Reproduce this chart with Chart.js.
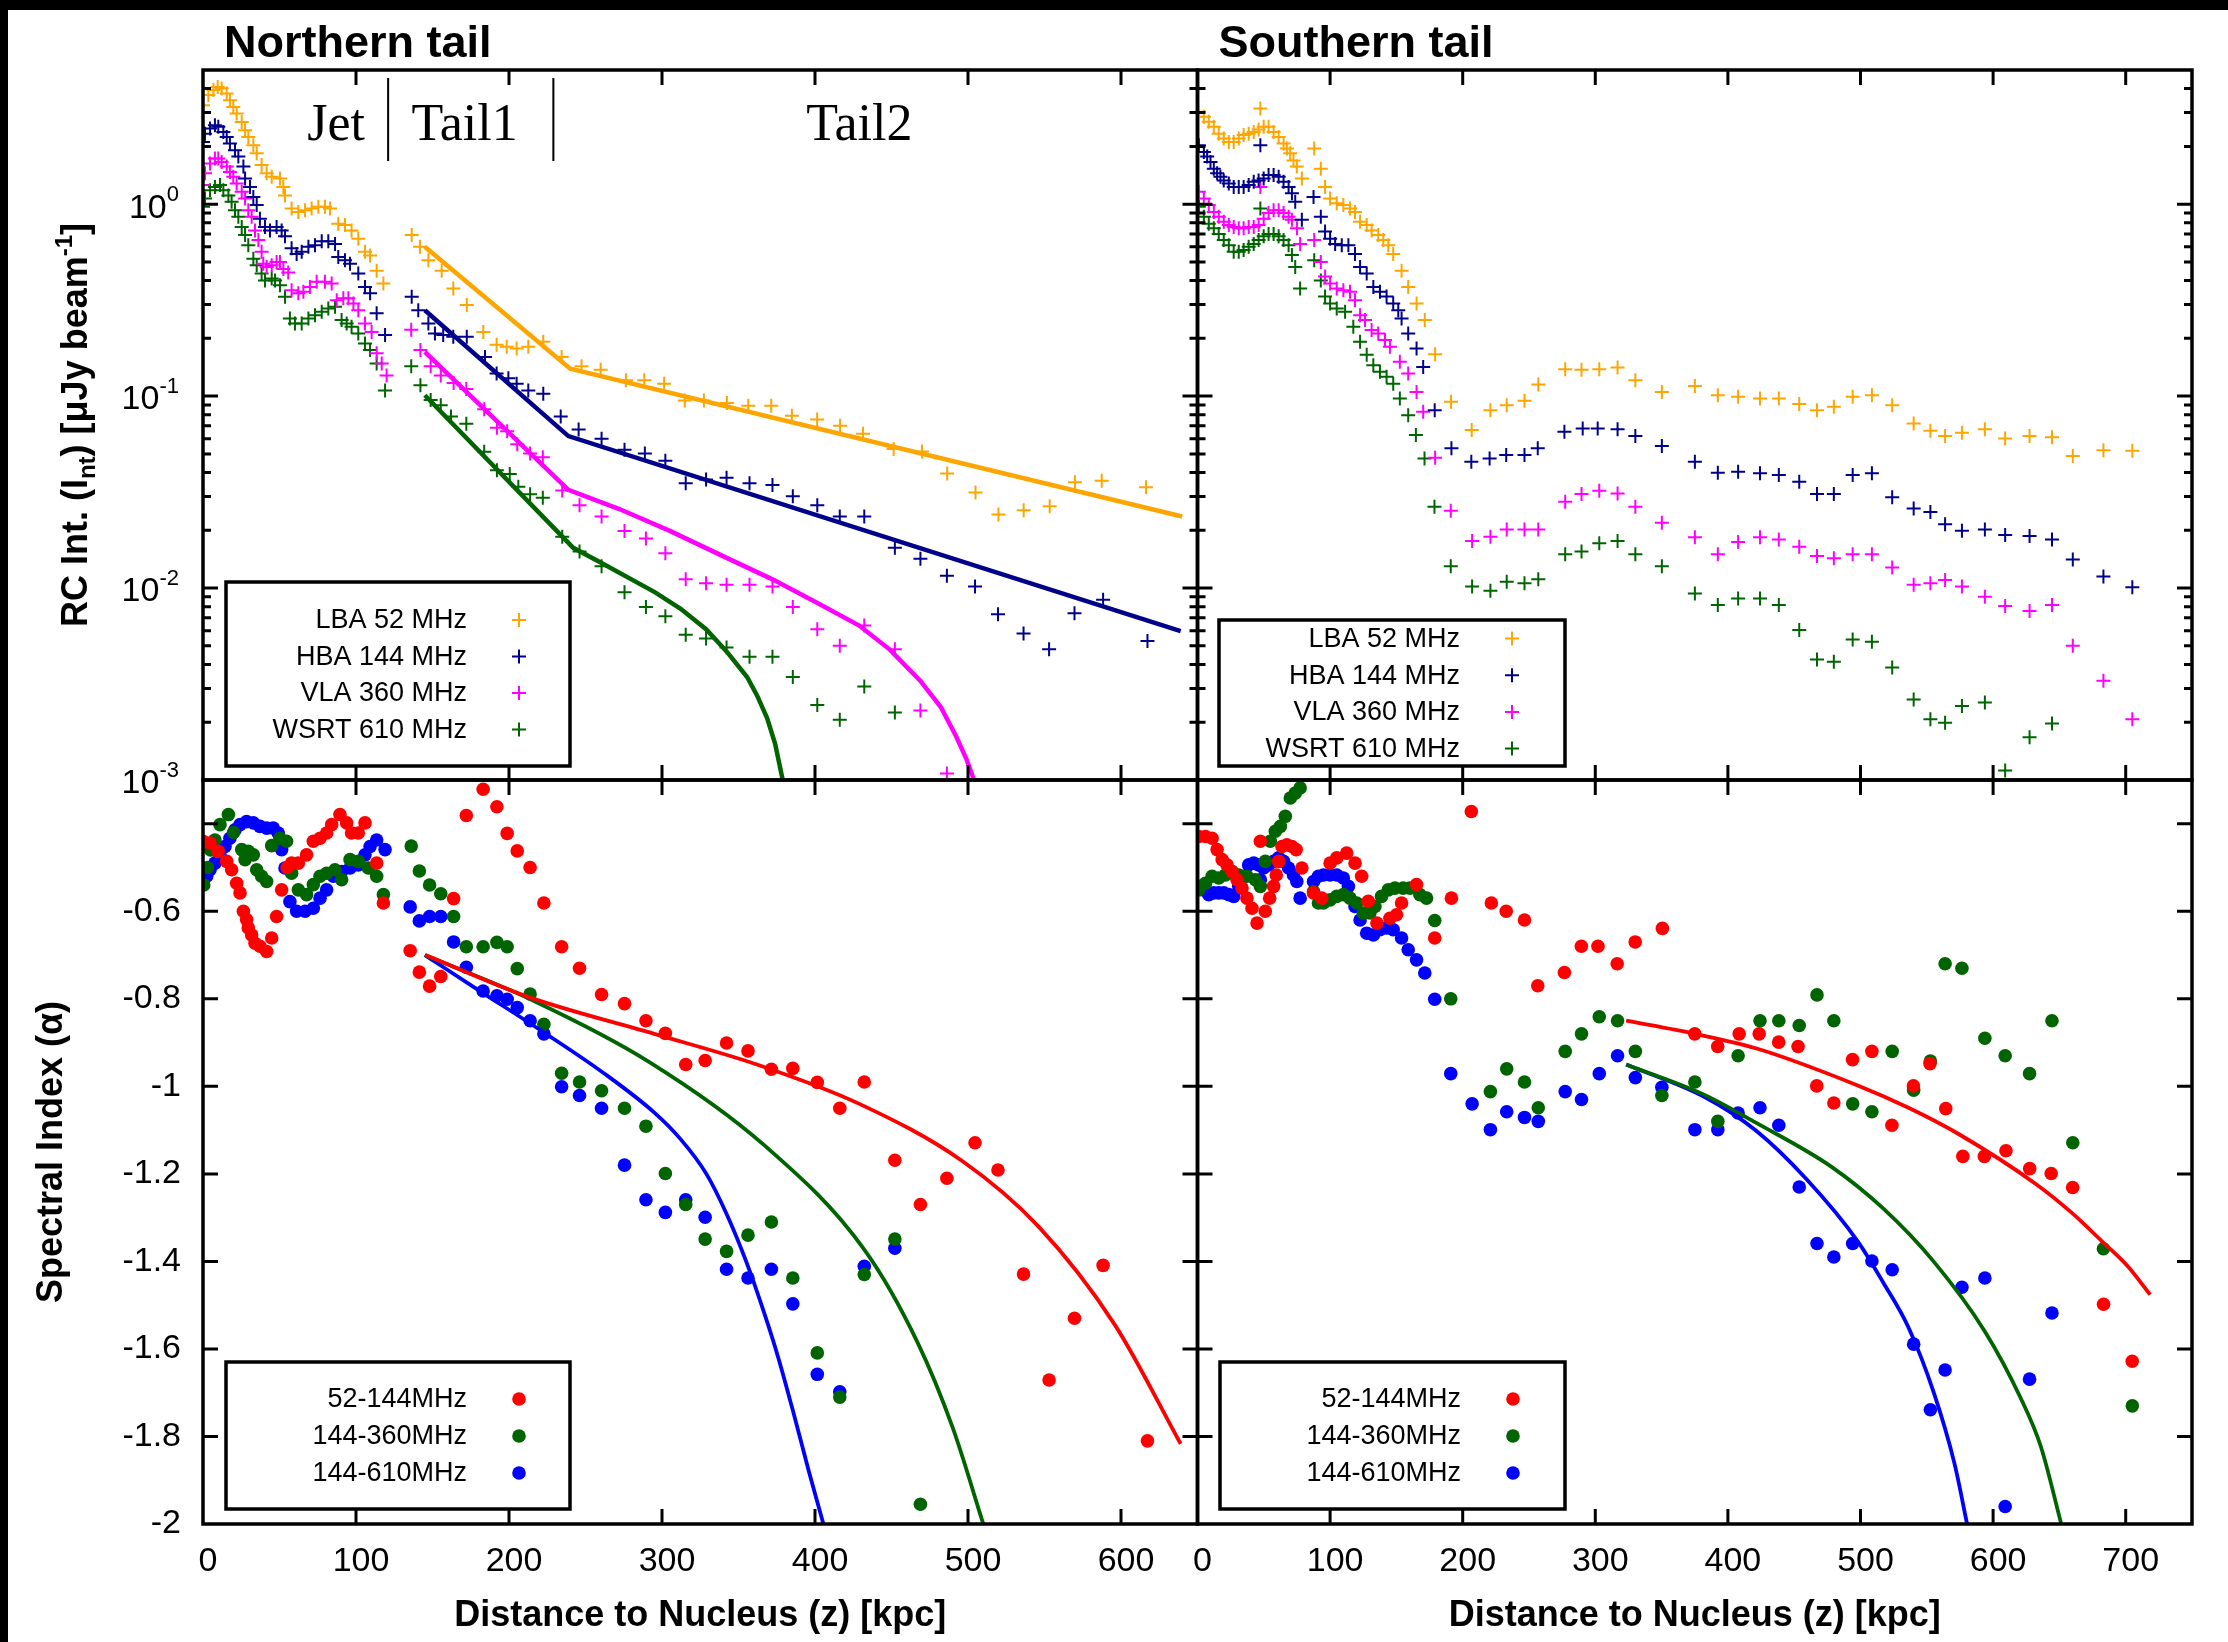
<!DOCTYPE html>
<html>
<head>
<meta charset="utf-8">
<title>Northern / Southern tail profiles</title>
<script src="https://cdn.jsdelivr.net/npm/chart.js@4.4.1/dist/chart.umd.min.js"></script>
<style>
  html, body { margin: 0; padding: 0; background: #fff; }
  #page { position: relative; width: 2228px; height: 1642px; background: #fff; overflow: hidden; }
  #page canvas { position: absolute; left: 0; top: 0; }
  .edge-top { position: absolute; left: 0; top: 0; width: 2228px; height: 10px; background: #000; }
  .edge-left { position: absolute; left: 0; top: 0; width: 8px; height: 1642px; background: #000; }
</style>
</head>
<body>
<div id="page">
  <canvas id="northFlux" width="2228" height="1642"></canvas>
  <canvas id="southFlux" width="2228" height="1642"></canvas>
  <canvas id="northIndex" width="2228" height="1642"></canvas>
  <canvas id="southIndex" width="2228" height="1642"></canvas>
  <div class="edge-top"></div>
  <div class="edge-left"></div>
</div>
<script>
// ---------- data: [distance kpc, value] ----------

// Northern tail, radio continuum intensity
const northLBA = [[0,3.28],[3.5,3.70],[6.8,3.93],[9.6,4.08],[12.2,4.0],[15.5,3.77],[17.6,3.48],[19.8,3.21],[22,2.97],[25.3,2.68],[27.5,2.43],[29.6,2.24],[32.9,2.03],[35.1,1.84],[38.3,1.60],[41.6,1.45],[44.9,1.39],[50.3,1.36],[52.5,1.23],[53.6,1.11],[57.9,0.95],[62.3,0.91],[66.7,0.93],[71,0.95],[75.4,0.97],[79.7,0.97],[83,0.95],[88.4,0.79],[92.8,0.78],[97.1,0.73],[101.5,0.66],[105.9,0.565],[109.2,0.54],[113.5,0.45],[117.9,0.386],
  [136.4,0.69],[141.8,0.60],[147.3,0.51],[156,0.45],[163.6,0.364],[172.4,0.298],[183.2,0.216],[191.9,0.185],[198.5,0.181],[205,0.177],[212.6,0.181],[222.4,0.192],[234.4,0.160],[247.4,0.143],[259.9,0.137],[276.4,0.121],[288.4,0.121],[301.4,0.116],[314.9,0.095],[327.4,0.095],[342.4,0.092],[356.4,0.089],[371.4,0.089],[384.9,0.079],[401.4,0.0755],[416.4,0.070],[431.4,0.0637],[451.4,0.053],[469.9,0.0514],[486.4,0.0395],[504.9,0.0315],[519.9,0.0242],[536.4,0.0254],[553.4,0.0267],[569.9,0.0356],[587.4,0.0362],[616.4,0.0335]];
const northHBA = [[0,2.11],[1.3,2.33],[4.6,2.48],[7.8,2.58],[10,2.53],[13.3,2.38],[15.5,2.24],[17.6,2.07],[20.9,1.91],[23.1,1.77],[26.4,1.57],[27.5,1.36],[30.7,1.23],[32.9,1.09],[35.1,0.99],[37.2,0.84],[40.5,0.76],[43.8,0.73],[48.1,0.76],[51.4,0.73],[53.6,0.68],[57.9,0.59],[61.2,0.55],[64.5,0.565],[68.9,0.60],[73.2,0.61],[77.6,0.64],[81.9,0.64],[86.3,0.62],[88.4,0.53],[92.8,0.51],[96.1,0.49],[101.5,0.435],[105.9,0.37],[109.2,0.343],[113.5,0.27],[119,0.208],
  [136.4,0.329],[140.7,0.28],[147.3,0.239],[151.6,0.212],[157,0.208],[163.6,0.204],[172.4,0.204],[184.3,0.160],[191.9,0.131],[199.6,0.124],[205,0.116],[212.6,0.107],[222.4,0.103],[233.8,0.0783],[245.5,0.067],[260.5,0.060],[275.5,0.0525],[288.8,0.0502],[302.2,0.046],[315.5,0.0352],[328.8,0.0368],[342.2,0.0376],[357.2,0.0352],[372.2,0.0344],[385.5,0.0301],[401.5,0.027],[416.2,0.0236],[432.2,0.0236],[452.2,0.0162],[468.9,0.0142],[486.2,0.0116],[504.6,0.0102],[519.6,0.0073],[536.3,0.0058],[553,0.0048],[569.6,0.0074],[588.3,0.0087],[617.3,0.0053]];
const northVLA = [[0,1.26],[1.3,1.45],[4.6,1.63],[7.8,1.73],[10,1.73],[12.2,1.66],[15.5,1.57],[17.6,1.47],[19.8,1.39],[22,1.28],[25.3,1.16],[27.5,1.07],[29.6,0.93],[31.8,0.86],[34,0.73],[36.2,0.65],[38.3,0.565],[39.4,0.49],[41.6,0.47],[44.9,0.48],[48.1,0.50],[50.3,0.50],[52.5,0.46],[55.7,0.44],[57.9,0.356],[62.3,0.343],[65.6,0.35],[69.9,0.37],[74.3,0.394],[79.7,0.394],[84.1,0.386],[87.4,0.316],[91.7,0.323],[95,0.323],[98.3,0.304],[101.5,0.28],[105.9,0.239],[110.2,0.216],[113.5,0.167],[116.8,0.148],[120,0.128],
  [136.1,0.222],[142.1,0.174],[148.8,0.143],[155.4,0.128],[163.8,0.117],[172.1,0.109],[183.8,0.0855],[192.1,0.0685],[198.8,0.0656],[205.4,0.0561],[213.8,0.0502],[222.1,0.048],[234.8,0.0322],[246.1,0.027],[260.5,0.0236],[275.5,0.0198],[289.5,0.0181],[302.2,0.0152],[315.5,0.0111],[328.8,0.0106],[342.2,0.0104],[357.2,0.0104],[372.2,0.0102],[385.5,0.00796],[401.5,0.0061],[416.2,0.005],[432.2,0.00638],[452.2,0.0048],[468.9,0.0023],[486.2,0.00108]];
const northWSRT = [[0,0.97],[1.3,1.07],[4.6,1.18],[7.8,1.23],[11.1,1.26],[13.3,1.18],[16.6,1.11],[18.7,1.03],[20.9,0.93],[23.1,0.86],[25.3,0.76],[27.5,0.69],[29.6,0.61],[32.9,0.52],[35.1,0.48],[38.3,0.435],[40.5,0.40],[44.9,0.41],[47.1,0.40],[50.3,0.378],[53.6,0.329],[56.8,0.254],[60.1,0.239],[64.5,0.239],[68.9,0.254],[73.2,0.264],[77.6,0.275],[81.9,0.286],[86.3,0.292],[90.6,0.249],[93.9,0.239],[97.1,0.23],[101.5,0.212],[105.9,0.188],[109.2,0.174],[113.5,0.148],[119,0.107],
  [136.1,0.143],[142.1,0.114],[148.8,0.0955],[155.4,0.0895],[162.1,0.0783],[172.1,0.0717],[183.8,0.0513],[192.1,0.0411],[200.5,0.0393],[206.1,0.0337],[213.8,0.0308],[222.1,0.0295],[234.8,0.0185],[246.1,0.0155],[260.5,0.013],[275.5,0.0095],[289.5,0.00796],[302.2,0.00713],[315.5,0.00571],[328.8,0.00546],[342.2,0.0049],[357.2,0.00438],[372.2,0.00438],[385.5,0.00344],[401.5,0.00246],[416.2,0.00206],[432.2,0.00307],[452.2,0.00225]];

// Northern tail, model fits
const northFitLBA = [[145,0.60],[240,0.139],[640,0.0236]];
const northFitHBA = [[145,0.28],[238.8,0.0619],[639,0.00597]];
const northFitVLA = [[145,0.170],[238.8,0.0325],[272.1,0.0258],[305.5,0.0198],[338.8,0.0148],[372.2,0.0111],[402.2,0.0083],[428.9,0.00638],[448.9,0.00478],[468.9,0.00328],[482.2,0.0024],[492.2,0.00169],[498.9,0.00129],[503.9,0.001]];
const northFitWSRT = [[145,0.101],[242,0.0162],[262,0.0133],[295.5,0.0095],[312.2,0.0078],[328.8,0.0061],[342.2,0.00468],[355.6,0.00344],[362.2,0.00275],[368.7,0.0021],[373.9,0.00155],[378.9,0.001]];

// Southern tail, radio continuum intensity
const southLBA = [[1,3.03],[4.8,2.85],[8.5,2.69],[12.3,2.53],[16,2.33],[19.8,2.20],[23.6,2.11],[27.3,2.11],[31.1,2.20],[34.8,2.29],[38.6,2.33],[42.4,2.38],[46.1,2.45],[47.4,3.15],[49.9,2.53],[53.6,2.53],[57.4,2.38],[61.2,2.24],[64.9,2.07],[67.4,1.95],[69.9,1.84],[72.4,1.69],[74.9,1.57],[78.7,1.36],[88,1.95],[93,1.53],[96.2,1.23],[100,1.07],[105,1.01],[110,0.99],[115,0.95],[118.8,0.91],[122.6,0.81],[127.6,0.78],[131.3,0.73],[136.3,0.69],[140.1,0.65],[143.9,0.61],[147.6,0.55],[153.9,0.45],[158.9,0.37],[165.2,0.304],[171.4,0.249],[179.2,0.165],[191.2,0.0934],[206.8,0.0665],[220.9,0.0845],[233.2,0.0897],[246.6,0.0946],[257,0.115],[277.3,0.138],[289.6,0.137],[303,0.138],[316.8,0.141],[330.2,0.121],[350.2,0.105],[375.1,0.113],[392.4,0.101],[407.7,0.0993],[424.2,0.0973],[438.4,0.0973],[453.8,0.091],[467.2,0.0845],[479.9,0.088],[494.1,0.0993],[508.6,0.101],[523.9,0.0897],[540.1,0.0721],[552.7,0.066],[563.8,0.0619],[576.5,0.0644],[593.8,0.0671],[609.1,0.0602],[627.5,0.0619],[644.4,0.061],[660.1,0.0487],[683.2,0.0523],[705,0.0519]];
const southHBA = [[1,2.03],[4.8,1.87],[7.3,1.77],[9.8,1.66],[12.3,1.53],[14.8,1.45],[17.3,1.39],[19.8,1.33],[23.6,1.28],[27.3,1.23],[31.1,1.23],[34.8,1.23],[38.6,1.26],[42.4,1.31],[46.1,1.33],[47.4,2.03],[49.9,1.36],[53.6,1.42],[57.4,1.42],[61.2,1.39],[64.9,1.31],[68.7,1.23],[71.2,1.14],[73.7,1.03],[78.7,0.83],[87.5,1.09],[93,0.86],[96.2,0.72],[100,0.66],[103.8,0.62],[108.8,0.61],[113.8,0.61],[118.8,0.55],[122.6,0.47],[127.6,0.435],[132.6,0.37],[137.6,0.35],[142.6,0.33],[147.6,0.304],[151.4,0.28],[153.9,0.254],[158.9,0.212],[165.2,0.177],[170.2,0.142],[178.9,0.0845],[191.5,0.0535],[206.5,0.0455],[220.3,0.0473],[232.8,0.0493],[246.6,0.0493],[256.6,0.0535],[276.7,0.0652],[290.5,0.0679],[301.8,0.0679],[316.8,0.0671],[330.2,0.0619],[350.2,0.055],[375.1,0.0455],[392.4,0.0399],[407.7,0.0403],[424.2,0.0396],[438.4,0.0388],[453.8,0.0358],[467.2,0.0309],[479.9,0.0309],[494.1,0.0388],[508.6,0.0396],[523.9,0.0297],[540.1,0.026],[552.7,0.0249],[563.8,0.0215],[576.5,0.0199],[593.8,0.0202],[609.1,0.0189],[627.5,0.0187],[644.4,0.0179],[660.1,0.0141],[683.2,0.0115],[705,0.0101]];
const southVLA = [[1,1.16],[4.8,1.07],[8.5,0.99],[12.3,0.91],[16,0.86],[19.8,0.81],[23.6,0.78],[27.3,0.76],[31.1,0.75],[34.8,0.75],[38.6,0.76],[42.4,0.76],[46.1,0.78],[47.4,1.23],[49.9,0.84],[53.6,0.90],[57.4,0.93],[61.2,0.93],[64.9,0.90],[68.7,0.86],[71.2,0.83],[75,0.75],[77.4,0.62],[88,0.65],[93,0.50],[96.2,0.42],[100,0.386],[105,0.364],[110,0.356],[115,0.35],[118.8,0.316],[122.6,0.264],[126.3,0.249],[131.3,0.221],[136.3,0.212],[141.4,0.196],[145.1,0.181],[152.6,0.151],[158.9,0.131],[165.2,0.105],[170.2,0.083],[179.2,0.0478],[191,0.0253],[207.1,0.0176],[220.9,0.0185],[233.2,0.0202],[246.6,0.0202],[257,0.0202],[277.3,0.0282],[289.6,0.0309],[303,0.0321],[316.8,0.0311],[330.2,0.0265],[350.2,0.0219],[375.1,0.0184],[392.4,0.015],[407.7,0.0174],[424.2,0.0184],[438.4,0.0179],[453.8,0.0164],[467.2,0.0147],[479.9,0.0143],[494.1,0.015],[508.6,0.015],[523.9,0.0128],[540.1,0.0104],[552.7,0.0106],[563.8,0.011],[576.5,0.0102],[593.8,0.009],[609.1,0.00806],[627.5,0.0076],[644.4,0.00815],[660.1,0.005],[683.2,0.00329],[705,0.00207]];
const southWSRT = [[1,0.97],[4.8,0.86],[8.5,0.79],[12.3,0.75],[16,0.70],[19.8,0.65],[23.6,0.61],[27.3,0.565],[31.1,0.565],[34.8,0.577],[38.6,0.60],[42.4,0.62],[46.1,0.65],[47.4,0.95],[49.9,0.68],[53.6,0.70],[57.4,0.70],[61.2,0.68],[64.9,0.65],[68.7,0.61],[71.2,0.543],[73.7,0.47],[77.4,0.364],[88,0.51],[93,0.40],[96.2,0.33],[100,0.304],[105,0.286],[111.3,0.275],[117.5,0.23],[122.6,0.192],[127.6,0.164],[132.6,0.145],[137.6,0.134],[142.6,0.126],[147.6,0.116],[152.6,0.0973],[158.9,0.0796],[164.7,0.0627],[171.2,0.0473],[178.7,0.0265],[191,0.013],[207.1,0.0102],[220.9,0.00968],[233.2,0.0108],[246.6,0.0106],[257,0.0111],[277.3,0.015],[289.6,0.0155],[303,0.0171],[316.8,0.0176],[330.2,0.015],[350.2,0.013],[375.1,0.00938],[392.4,0.00815],[407.7,0.00883],[424.2,0.00883],[438.4,0.00815],[453.8,0.00604],[467.2,0.00425],[479.9,0.00413],[494.1,0.0054],[508.6,0.00525],[523.9,0.00386],[540.1,0.00263],[552.7,0.00207],[563.8,0.00199],[576.5,0.00243],[593.8,0.00253],[609.1,0.00112],[627.5,0.00167],[644.4,0.00197]];

// Northern tail, spectral index
const northIdx52 = [[0,-0.440],[4.6,-0.444],[9.9,-0.463],[15.5,-0.486],[18.7,-0.505],[22,-0.536],[24.2,-0.558],[26.4,-0.600],[28.5,-0.619],[29.6,-0.638],[31.8,-0.654],[34,-0.673],[37.2,-0.680],[41.6,-0.692],[44.9,-0.661],[48.1,-0.612],[51.4,-0.551],[55,-0.50],[57.9,-0.490],[62.3,-0.490],[67.7,-0.471],[72.1,-0.440],[76.5,-0.433],[80.8,-0.421],[84.1,-0.402],[89.5,-0.379],[93.9,-0.398],[97.1,-0.421],[101.5,-0.421],[105.9,-0.398],[113.5,-0.490],[117.9,-0.581],
  [135.4,-0.690],[141.4,-0.739],[148.1,-0.771],[155.4,-0.749],[163.8,-0.571],[172.1,-0.381],[183.1,-0.321],[192.1,-0.361],[198.8,-0.422],[205.4,-0.462],[213.8,-0.500],[222.8,-0.581],[234.4,-0.681],[246.1,-0.730],[260.5,-0.790],[275.5,-0.811],[289.5,-0.850],[302.2,-0.879],[315.5,-0.950],[328.2,-0.941],[342.2,-0.901],[356.2,-0.919],[371.5,-0.961],[385.5,-0.959],[401.5,-0.991],[416.2,-1.050],[432.2,-0.990],[452.2,-1.169],[468.9,-1.270],[486.2,-1.210],[504.6,-1.129],[519.6,-1.191],[536.3,-1.429],[553,-1.671],[569.6,-1.530],[588.3,-1.409],[617.3,-1.810]];
const northIdx360 = [[0.5,-0.54],[3,-0.50],[5,-0.46],[7.8,-0.437],[11.1,-0.402],[16.6,-0.379],[20,-0.42],[25.3,-0.459],[27.5,-0.482],[29.6,-0.463],[32.9,-0.471],[35.1,-0.505],[38.3,-0.520],[41.6,-0.532],[44.9,-0.45],[50.3,-0.433],[54.6,-0.44],[57.9,-0.513],[62.3,-0.551],[67.7,-0.562],[72.1,-0.539],[76.5,-0.520],[80.8,-0.513],[86.3,-0.505],[90.6,-0.528],[96.1,-0.482],[101.5,-0.486],[108.1,-0.501],[113.5,-0.520],[117.9,-0.562],
  [136.1,-0.451],[141.4,-0.508],[148.1,-0.540],[155.4,-0.560],[163.8,-0.612],[172.1,-0.681],[183.1,-0.681],[192.1,-0.671],[198.8,-0.681],[205.4,-0.731],[213.8,-0.789],[222.8,-0.858],[234.4,-0.970],[246.1,-0.990],[260.5,-1.010],[275.5,-1.050],[289.5,-1.091],[302.2,-1.199],[315.5,-1.270],[328.2,-1.349],[342.2,-1.377],[356.2,-1.340],[371.5,-1.310],[385.5,-1.438],[401.5,-1.609],[416.2,-1.710],[432.2,-1.430],[452.2,-1.349],[468.9,-1.955]];
const northIdx610 = [[0.2,-0.528],[2.4,-0.520],[4.6,-0.505],[7.8,-0.490],[11.1,-0.471],[14.4,-0.452],[17.6,-0.433],[20.9,-0.414],[24.2,-0.402],[28.5,-0.395],[32.9,-0.398],[37.2,-0.406],[41.6,-0.410],[45.9,-0.410],[49.2,-0.421],[51.4,-0.459],[53.6,-0.501],[56.8,-0.578],[61.2,-0.600],[66.7,-0.600],[72.1,-0.593],[76.5,-0.570],[80.8,-0.551],[85.2,-0.520],[90.6,-0.509],[96.1,-0.501],[101.5,-0.494],[105.9,-0.471],[109.2,-0.452],[113.5,-0.437],[119,-0.459],
  [135.4,-0.590],[141.4,-0.622],[148.1,-0.612],[155.4,-0.612],[163.8,-0.670],[172.1,-0.728],[183.1,-0.782],[192.1,-0.793],[198.8,-0.801],[205.4,-0.820],[213.8,-0.850],[222.8,-0.880],[234.4,-1.001],[246.1,-1.021],[260.5,-1.050],[275.5,-1.180],[289.5,-1.259],[302.2,-1.288],[315.5,-1.259],[328.2,-1.299],[342.2,-1.418],[356.2,-1.438],[371.5,-1.418],[385.5,-1.497],[401.5,-1.658],[416.2,-1.698],[432.2,-1.411],[452.2,-1.370]];

// Northern tail, spectral index model curves
const northFit52 = [[145.4,-0.700],[212,-0.795],[295,-0.880],[362,-0.950],[429,-1.040],[496,-1.170],[546,-1.320],[596,-1.545],[639,-1.817]];
const northFit360 = [[145,-0.700],[217,-0.806],[292,-0.945],[367,-1.135],[432,-1.372],[467,-1.585],[490,-1.780],[510,-2.0]];
const northFit610 = [[145,-0.700],[180,-0.780],[222,-0.875],[262,-0.970],[295,-1.060],[312,-1.120],[329,-1.200],[342,-1.290],[355,-1.400],[367,-1.520],[376,-1.620],[387,-1.760],[396,-1.880],[405.5,-2.0]];

// Southern tail, spectral index
const southIdx52 = [[1,-0.429],[6,-0.429],[11,-0.433],[14.8,-0.459],[18.6,-0.482],[22.3,-0.494],[26.1,-0.509],[29.8,-0.528],[33.6,-0.547],[37.3,-0.570],[41.1,-0.593],[44.9,-0.627],[47.4,-0.440],[51.1,-0.600],[54.4,-0.570],[57.4,-0.543],[59.4,-0.517],[61.2,-0.486],[63.7,-0.452],[67.4,-0.448],[71.2,-0.452],[74.4,-0.459],[78.7,-0.501],[87.5,-0.558],[93.7,-0.570],[100,-0.490],[105,-0.478],[112.5,-0.467],[118.8,-0.490],[123.8,-0.520],[128.8,-0.577],[135.3,-0.627],[145.1,-0.616],[150.1,-0.608],[153.9,-0.581],[165.2,-0.539],[178.9,-0.661],[191.5,-0.570],[206.5,-0.372],[221.6,-0.581],[232.8,-0.600],[246.6,-0.620],[256.6,-0.770],[276.7,-0.740],[289.5,-0.680],[302,-0.680],[316.5,-0.720],[330.1,-0.670],[350.6,-0.639],[375,-0.880],[392.3,-0.909],[408.5,-0.880],[423.6,-0.880],[438.3,-0.899],[452.9,-0.909],[467,-0.999],[479.9,-1.038],[494,-0.939],[508.6,-0.920],[523.7,-1.089],[539.9,-0.999],[552.4,-0.948],[564.3,-1.051],[577.2,-1.160],[593.4,-1.160],[609.7,-1.147],[627.6,-1.188],[643.8,-1.199],[660,-1.231],[683.3,-1.498],[704.9,-1.628]];
const southIdx360 = [[1,-0.551],[6,-0.536],[11,-0.520],[16,-0.524],[21.1,-0.517],[26.1,-0.509],[31.1,-0.517],[37.3,-0.520],[43.6,-0.528],[47.4,-0.543],[51.1,-0.486],[54.9,-0.440],[58.7,-0.417],[62.5,-0.406],[66.2,-0.383],[70,-0.341],[73.7,-0.330],[77.4,-0.318],[87.5,-0.555],[91.2,-0.581],[95,-0.581],[100,-0.574],[105,-0.566],[110,-0.562],[115,-0.570],[120,-0.581],[125,-0.604],[130,-0.604],[133.8,-0.589],[138.8,-0.566],[143.9,-0.551],[148.9,-0.547],[155.1,-0.547],[160.2,-0.547],[167.7,-0.562],[172.7,-0.570],[178.9,-0.621],[191,-0.800],[220.9,-1.012],[233.2,-0.960],[246.6,-0.990],[257,-1.049],[277.3,-0.920],[289.6,-0.880],[303,-0.841],[316.8,-0.850],[330.2,-0.920],[350.2,-1.021],[375.1,-0.990],[392.4,-1.080],[407.7,-0.930],[424.2,-0.850],[438.4,-0.850],[453.8,-0.861],[467.2,-0.791],[479.9,-0.850],[494.1,-1.040],[508.6,-1.058],[523.9,-0.920],[540.1,-1.009],[552.7,-0.942],[563.8,-0.720],[576.5,-0.730],[593.8,-0.890],[609.1,-0.930],[627.5,-0.971],[644.4,-0.850],[660.1,-1.129],[683.2,-1.371],[705,-1.730]];
const southIdx610 = [[1,-0.543],[4.8,-0.551],[8.5,-0.562],[12.3,-0.558],[16,-0.558],[19.8,-0.558],[23.6,-0.562],[27.3,-0.566],[31.1,-0.543],[34.8,-0.520],[38.6,-0.494],[42.4,-0.490],[46.1,-0.494],[47.4,-0.528],[49.9,-0.501],[53.6,-0.494],[57.4,-0.486],[61.2,-0.478],[64.9,-0.486],[68.7,-0.501],[72.4,-0.517],[74.9,-0.532],[77.4,-0.570],[87.5,-0.532],[91.2,-0.520],[95,-0.517],[100,-0.517],[105,-0.517],[110,-0.524],[113.8,-0.543],[118.8,-0.589],[122.6,-0.620],[127.6,-0.650],[132.6,-0.654],[137.6,-0.642],[142.6,-0.638],[147.6,-0.642],[153.9,-0.661],[158.9,-0.688],[165.2,-0.711],[171.4,-0.741],[178.9,-0.801],[191,-0.971],[207.1,-1.040],[220.9,-1.099],[233.2,-1.058],[246.6,-1.071],[257,-1.080],[277.3,-1.012],[289.6,-1.030],[303,-0.971],[316.8,-0.930],[330.2,-0.980],[350.2,-1.002],[375.1,-1.099],[392.4,-1.099],[407.7,-1.061],[424.2,-1.049],[438.4,-1.089],[453.8,-1.230],[467.2,-1.359],[479.9,-1.390],[494.1,-1.359],[508.6,-1.399],[523.9,-1.419],[540.1,-1.589],[552.7,-1.739],[563.8,-1.648],[576.5,-1.459],[593.8,-1.438],[609.1,-1.960],[627.5,-1.669],[644.4,-1.518]];

// Southern tail, spectral index model curves
const southFit52 = [[323.3,-0.850],[375.1,-0.880],[421.1,-0.913],[497.9,-0.998],[536.2,-1.049],[574.6,-1.110],[632.2,-1.223],[659,-1.288],[682.1,-1.354],[701.2,-1.410],[718.5,-1.476]];
const southFit360 = [[323.3,-0.950],[382.8,-1.020],[421.1,-1.083],[478.7,-1.185],[517.1,-1.279],[555.4,-1.401],[593.8,-1.560],[620.6,-1.711],[636,-1.823],[651.4,-2.0]];
const southFit610 = [[323.3,-0.950],[382.8,-1.025],[421.1,-1.101],[459.5,-1.213],[497.9,-1.354],[517.1,-1.448],[536.2,-1.551],[555.4,-1.701],[570.8,-1.861],[580.4,-2.0]];

// axis ranges and tick labels
const northRange = 650;
const southRange = 750;
const fluxRange = [0.001, 5];
const alphaRange = [-2, -0.3];
const fluxDecades = [0, -1, -2, -3];
const alphaLabelled = [-2, -1.8, -1.6, -1.4, -1.2, -1, -0.8, -0.6];

// jet / tail regions along the northern tail (kpc)
const regionNames = ['Jet', 'Tail1', 'Tail2'];
const regionCentres = [87, 171, 429];
const regionEdges = [121, 229];

// ---------- layout ----------
const PAGE_W = 2228, PAGE_H = 1642;
const FRAME = { left: 203, mid: 1197.5, right: 2192, top: 70, split: 780, bottom: 1524 };
const FONT = '"Liberation Sans", Arial, Helvetica, sans-serif';
const SERIF = '"Liberation Serif", "Times New Roman", serif';

Chart.defaults.font.family = FONT;
Chart.defaults.color = '#000';

const toXY = arr => arr.map(([x, y]) => ({ x, y }));

function crosses(label, data, color) {
  return {
    label, data: toXY(data), inKey: true, order: 2, clip: 0, showLine: false,
    pointStyle: 'cross', pointRadius: 7, pointBorderWidth: 2,
    pointBorderColor: color, pointBackgroundColor: color
  };
}

function dots(label, data, color) {
  return {
    label, data: toXY(data), inKey: true, order: 2, clip: 0, showLine: false,
    pointStyle: 'circle', pointRadius: 6.8, pointBorderWidth: 0,
    pointBorderColor: color, pointBackgroundColor: color
  };
}

function fitLine(data, color, width, smooth) {
  return {
    label: 'model', data: toXY(data), inKey: false, order: 1, clip: 0,
    showLine: true, pointRadius: 0, borderColor: color, borderWidth: width,
    tension: 0, cubicInterpolationMode: smooth ? 'monotone' : 'default', fill: false
  };
}

// inward tick marks on all four sides, like the original plot
function yTickValues(scale) {
  if (scale.type === 'logarithmic') {
    const out = [];
    fluxDecades.forEach(k => {
      for (let m = 1; m <= 9; m++) {
        const v = m * Math.pow(10, k);
        if (v > scale.min * 1.0001 && v < scale.max * 0.9999) out.push([v, m === 1]);
      }
    });
    return out;
  }
  return scale.ticks
    .filter(t => t.value > scale.min + 1e-6 && t.value < scale.max - 1e-6)
    .map(t => [t.value, true]);
}

function drawKey(chart, key) {
  const { ctx, chartArea: a } = chart;
  const x0 = a.left + key.left;
  const y0 = a.bottom - key.bottom - key.height;
  ctx.lineWidth = 3.5;
  ctx.strokeStyle = '#000';
  ctx.strokeRect(x0, y0, key.width, key.height);
  ctx.font = '27px ' + FONT;
  ctx.textAlign = 'right';
  ctx.textBaseline = 'middle';
  chart.data.datasets.filter(d => d.inKey).forEach((d, i) => {
    const y = y0 + key.firstRow + i * key.rowGap;
    ctx.fillStyle = '#000';
    ctx.fillText(d.label, x0 + 241, y + 1);
    ctx.fillStyle = d.pointBackgroundColor;
    ctx.strokeStyle = d.pointBorderColor;
    ctx.lineWidth = d.pointBorderWidth;
    Chart.helpers.drawPoint(ctx, {
      pointStyle: d.pointStyle, rotation: 0, radius: d.pointRadius, borderWidth: d.pointBorderWidth
    }, x0 + 293, y);
  });
}

function framePlugin(extra) {
  return {
    id: 'gnuFrame',
    afterDraw(chart) {
      const { ctx, chartArea: a } = chart;
      const xs = chart.scales.x, ys = chart.scales.y;
      ctx.save();
      ctx.strokeStyle = '#000';
      ctx.lineWidth = 3;
      ctx.beginPath();
      xs.ticks.forEach(t => {
        if (t.value <= xs.min || t.value >= xs.max) return;
        const px = xs.getPixelForValue(t.value);
        ctx.moveTo(px, a.bottom); ctx.lineTo(px, a.bottom - 15);
        ctx.moveTo(px, a.top); ctx.lineTo(px, a.top + 15);
      });
      yTickValues(ys).forEach(([v, major]) => {
        const py = ys.getPixelForValue(v);
        const len = major ? 15 : 8;
        ctx.moveTo(a.left, py); ctx.lineTo(a.left + len, py);
        ctx.moveTo(a.right, py); ctx.lineTo(a.right - len, py);
      });
      ctx.stroke();
      ctx.lineWidth = 3.5;
      ctx.strokeRect(a.left, a.top, a.right - a.left, a.bottom - a.top);
      if (extra.key) drawKey(chart, extra.key);
      if (extra.decorate) extra.decorate(chart);
      ctx.restore();
    }
  };
}

function panelTitle(ctx, text, a) {
  ctx.fillStyle = '#000';
  ctx.font = 'bold 45px ' + FONT;
  ctx.textAlign = 'left';
  ctx.textBaseline = 'alphabetic';
  ctx.fillText(text, a.left + 21, a.top - 13);
}

// 10^k labels on the logarithmic axis
function decadeLabels(ctx, ys, a) {
  const baseFont = '34px ' + FONT, supFont = '22px ' + FONT;
  ctx.fillStyle = '#000';
  fluxDecades.forEach(k => {
    const py = ys.getPixelForValue(Math.pow(10, k));
    const sup = k === 0 ? '0' : '-' + Math.abs(k);
    ctx.font = supFont;
    const sw = ctx.measureText(sup).width;
    ctx.font = baseFont;
    const bw = ctx.measureText('10').width;
    const right = a.left - 24;
    ctx.textAlign = 'left';
    ctx.textBaseline = 'middle';
    ctx.fillText('10', right - sw - bw, py + 4);
    ctx.font = supFont;
    ctx.textBaseline = 'alphabetic';
    ctx.fillText(sup, right - sw, py - 3);
  });
}

// rotated axis title with subscript and superscript
function fluxAxisTitle(ctx, a) {
  const big = 'bold 36px ' + FONT, small = 'bold 24px ' + FONT;
  const parts = [
    { t: 'RC Int. (I', f: big, dy: 0 },
    { t: 'nt', f: small, dy: 8 },
    { t: ') [\u03bcJy beam', f: big, dy: 0 },
    { t: '-1', f: small, dy: -15 },
    { t: ']', f: big, dy: 0 }
  ];
  let total = 0;
  parts.forEach(p => { ctx.font = p.f; p.w = ctx.measureText(p.t).width; total += p.w; });
  ctx.save();
  ctx.translate(87, (a.top + a.bottom) / 2);
  ctx.rotate(-Math.PI / 2);
  ctx.fillStyle = '#000';
  ctx.textAlign = 'left';
  ctx.textBaseline = 'alphabetic';
  let x = -total / 2;
  parts.forEach(p => { ctx.font = p.f; ctx.fillText(p.t, x, p.dy); x += p.w; });
  ctx.restore();
}

function regionMarks(ctx, xs, a) {
  ctx.fillStyle = '#000';
  ctx.font = '52px ' + SERIF;
  ctx.textAlign = 'center';
  ctx.textBaseline = 'alphabetic';
  regionNames.forEach((n, i) => ctx.fillText(n, xs.getPixelForValue(regionCentres[i]), a.top + 70));
  ctx.strokeStyle = '#000';
  ctx.lineWidth = 2;
  ctx.beginPath();
  regionEdges.forEach(e => {
    const px = xs.getPixelForValue(e);
    ctx.moveTo(px, a.top + 8);
    ctx.lineTo(px, a.top + 91);
  });
  ctx.stroke();
}

function xAxis(max, labelled) {
  return {
    type: 'linear', min: 0, max, bounds: 'data',
    border: { display: false },
    grid: { display: false, drawTicks: false },
    ticks: {
      display: labelled, stepSize: 100, includeBounds: false, autoSkip: false, maxRotation: 0,
      padding: 17, labelOffset: 5, font: { size: 34 }, color: '#000',
      callback: v => (Math.abs(v % 100) < 1e-6 ? String(v) : '')
    },
    title: {
      display: labelled, text: 'Distance to Nucleus (z) [kpc]', color: '#000',
      font: { size: 36, weight: 'bold' }, padding: { top: 0, bottom: 4 }
    },
    afterFit: s => { s.height = labelled ? PAGE_H - FRAME.bottom : 0; }
  };
}

function fluxAxis() {
  return {
    type: 'logarithmic', min: fluxRange[0], max: fluxRange[1], bounds: 'data',
    border: { display: false },
    grid: { display: false, drawTicks: false },
    ticks: { display: false },
    afterFit: s => { s.width = 0; }
  };
}

function alphaAxis(labelled) {
  return {
    type: 'linear', min: alphaRange[0], max: alphaRange[1], bounds: 'data',
    border: { display: false },
    grid: { display: false, drawTicks: false },
    ticks: {
      display: labelled, stepSize: 0.2, includeBounds: false, autoSkip: false,
      padding: 22, font: { size: 34 }, color: '#000',
      callback: v => alphaLabelled.some(l => Math.abs(l - v) < 1e-6) ? String(+v.toFixed(1)) : ''
    },
    title: {
      display: labelled, text: 'Spectral Index (\u03b1)', color: '#000',
      font: { size: 36, weight: 'bold' }, padding: { top: 20, bottom: 0 }
    },
    afterFit: s => { s.width = labelled ? FRAME.left - 10 : 0; }
  };
}

function panel(canvasId, spec) {
  const a = spec.area;
  return new Chart(document.getElementById(canvasId), {
    type: 'scatter',
    data: { datasets: spec.datasets },
    options: {
      responsive: false,
      animation: false,
      devicePixelRatio: 1,
      events: [],
      layout: {
        padding: {
          left: a.left - spec.yWidth,
          top: a.top,
          right: PAGE_W - a.right,
          bottom: PAGE_H - a.bottom - spec.xHeight
        }
      },
      plugins: { legend: { display: false }, tooltip: { enabled: false }, title: { display: false } },
      scales: { x: spec.x, y: spec.y }
    },
    plugins: [framePlugin(spec)]
  });
}

// ---------- charts ----------
panel('northFlux', {
  area: { left: FRAME.left, top: FRAME.top, right: FRAME.mid, bottom: FRAME.split },
  yWidth: 0, xHeight: 0,
  x: xAxis(northRange, false),
  y: fluxAxis(),
  datasets: [
    fitLine(northFitLBA, '#ffa500', 4.5, false),
    fitLine(northFitHBA, '#00008b', 4.5, false),
    fitLine(northFitVLA, '#ff00ff', 4.5, false),
    fitLine(northFitWSRT, '#006400', 4.5, false),
    crosses('LBA 52 MHz', northLBA, '#ffa500'),
    crosses('HBA 144 MHz', northHBA, '#00008b'),
    crosses('VLA 360 MHz', northVLA, '#ff00ff'),
    crosses('WSRT 610 MHz', northWSRT, '#006400')
  ],
  key: { left: 23, bottom: 14, width: 344, height: 184, firstRow: 38, rowGap: 36.5 },
  decorate(chart) {
    const { ctx, chartArea: a } = chart;
    panelTitle(ctx, 'Northern tail', a);
    decadeLabels(ctx, chart.scales.y, a);
    fluxAxisTitle(ctx, a);
    regionMarks(ctx, chart.scales.x, a);
  }
});

panel('southFlux', {
  area: { left: FRAME.mid, top: FRAME.top, right: FRAME.right, bottom: FRAME.split },
  yWidth: 0, xHeight: 0,
  x: xAxis(southRange, false),
  y: fluxAxis(),
  datasets: [
    crosses('LBA 52 MHz', southLBA, '#ffa500'),
    crosses('HBA 144 MHz', southHBA, '#00008b'),
    crosses('VLA 360 MHz', southVLA, '#ff00ff'),
    crosses('WSRT 610 MHz', southWSRT, '#006400')
  ],
  key: { left: 21.5, bottom: 14, width: 346, height: 146, firstRow: 18.5, rowGap: 36.7 },
  decorate(chart) {
    panelTitle(chart.ctx, 'Southern tail', chart.chartArea);
  }
});

panel('northIndex', {
  area: { left: FRAME.left, top: FRAME.split, right: FRAME.mid, bottom: FRAME.bottom },
  yWidth: FRAME.left - 10, xHeight: PAGE_H - FRAME.bottom,
  x: xAxis(northRange, true),
  y: alphaAxis(true),
  datasets: [
    fitLine(northFit52, '#ff0000', 3.8, true),
    fitLine(northFit360, '#006400', 3.8, true),
    fitLine(northFit610, '#0000ff', 3.8, true),
    dots('52-144MHz', northIdx52, '#ff0000'),
    dots('144-360MHz', northIdx360, '#006400'),
    dots('144-610MHz', northIdx610, '#0000ff')
  ],
  key: { left: 23, bottom: 15, width: 344, height: 147, firstRow: 37, rowGap: 37 }
});

panel('southIndex', {
  area: { left: FRAME.mid, top: FRAME.split, right: FRAME.right, bottom: FRAME.bottom },
  yWidth: 0, xHeight: PAGE_H - FRAME.bottom,
  x: xAxis(southRange, true),
  y: alphaAxis(false),
  datasets: [
    fitLine(southFit52, '#ff0000', 3.8, true),
    fitLine(southFit360, '#006400', 3.8, true),
    fitLine(southFit610, '#0000ff', 3.8, true),
    dots('52-144MHz', southIdx52, '#ff0000'),
    dots('144-360MHz', southIdx360, '#006400'),
    dots('144-610MHz', southIdx610, '#0000ff')
  ],
  key: { left: 22.5, bottom: 15, width: 345, height: 147, firstRow: 37, rowGap: 37 }
});
</script>
</body>
</html>
